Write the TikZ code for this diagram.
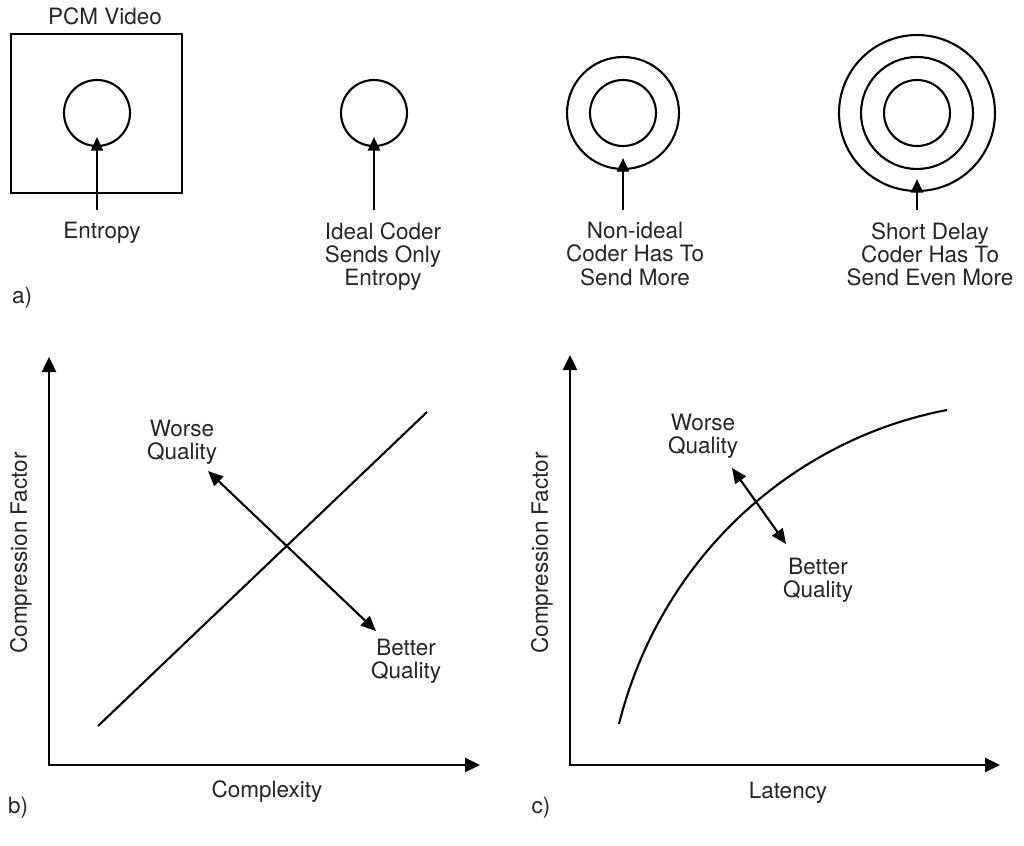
\documentclass[tikz,border=0pt]{standalone}
\usepackage{fontspec}
\setmainfont{TeX Gyre Heros}
\usetikzlibrary{arrows.meta}

\tikzset{
  lbl/.style={font=\fontsize{12.8}{13.2}\selectfont, text=black!85, align=center, inner sep=0pt},
  capt/.style={lbl, anchor=north, inner ysep=0.24cm},
  ring/.style={circle, draw, line width=1.2pt, minimum size=#1, inner sep=0pt},
  pt/.style={-{Triangle[length=0.27cm,width=0.24cm]}, line width=1.2pt},
  axes/.style={{Triangle[length=0.3cm,width=0.28cm]}-{Triangle[length=0.3cm,width=0.28cm]}, line width=1.4pt},
  dbl/.style={{Triangle[length=0.3cm,width=0.26cm]}-{Triangle[length=0.3cm,width=0.26cm]}, line width=1.2pt},
  trend/.style={line width=1.2pt}
}

\begin{document}
\begin{tikzpicture}[x=0.02cm, y=-0.02cm]
        \useasboundingbox (0,0) rectangle (1024,845);
        % a) entropy and what the coders send
        \node[lbl] (pcm) at (105,16) {PCM Video};
        \draw[line width=1.2pt] (11,34) rectangle (182,193);
        \node[ring=1.32cm] (e1) at (97,113) {};
        \node[ring=1.32cm] (e2) at (374,113) {};
        \node[ring=1.32cm] (e3) at (623,113) {};
        \node[ring=2.24cm] (e3b) at (623,113) {};
        \node[ring=1.32cm] (e4) at (917,113) {};
        \node[ring=2.24cm] (e4b) at (917,113) {};
        \node[ring=3.12cm] (e4c) at (917,113) {};
        \node[capt] (t1) at (102,210) {Entropy};
        \node[capt] (t2) at (383,210) {Ideal Coder\\Sends Only\\Entropy};
        \node[capt] (t3) at (635,210) {Non-ideal\\Coder Has To\\Send More};
        \node[capt] (t4) at (930,210) {Short Delay\\Coder Has To\\Send Even More};
        \draw[pt, shorten >=-0.2cm] (e1 |- t1.north) -- (e1.south);
        \draw[pt, shorten >=-0.2cm] (e2 |- t2.north) -- (e2.south);
        \draw[pt, shorten >=-0.24cm] (e3b |- t3.north) -- (e3b.south);
        \draw[pt, shorten >=-0.26cm] (e4c |- t4.north) -- (e4c.south);
        \node[lbl] (pa) at (22,298) {a)};

        % b) complexity
        \coordinate (ob) at (49,765);
        \coordinate (yb) at (49,357);
        \coordinate (xb) at (480,765);
        \draw[axes] (yb) -- (ob) -- (xb);
        \coordinate (lb0) at (98,726);
        \coordinate (lb1) at (427,412);
        \draw[trend] (lb0) -- (lb1);
        \coordinate (wb) at (208,471);
        \coordinate (bb) at (376,631);
        \draw[dbl] (wb) -- (bb);
        \node[lbl] (worseb) at (182,442) {Worse\\Quality};
        \node[lbl] (betterb) at (406,661) {Better\\Quality};
        \node[lbl, rotate=90] (cfb) at (21,553) {Compression Factor};
        \node[lbl] (cxb) at (267,792) {Complexity};
        \node[lbl] (pb) at (18,808) {b)};

        % c) latency
        \coordinate (oc) at (570,765);
        \coordinate (yc) at (570,355);
        \coordinate (xc) at (1000,765);
        \draw[axes] (yc) -- (oc) -- (xc);
        \coordinate (lc0) at (619,724);
        \coordinate (lc1) at (947,410);
        \draw[trend] (lc0) .. controls (660,560) and (790,440) .. (lc1);
        \coordinate (wc) at (732,468);
        \coordinate (bc) at (786,544);
        \draw[dbl] (wc) -- (bc);
        \node[lbl] (worsec) at (703,436) {Worse\\Quality};
        \node[lbl] (betterc) at (818,580) {Better\\Quality};
        \node[lbl, rotate=90] (cfc) at (542,553) {Compression Factor};
        \node[lbl] (lat) at (788,793) {Latency};
        \node[lbl] (pc) at (541,808) {c)};
    \end{tikzpicture}
\end{document}
